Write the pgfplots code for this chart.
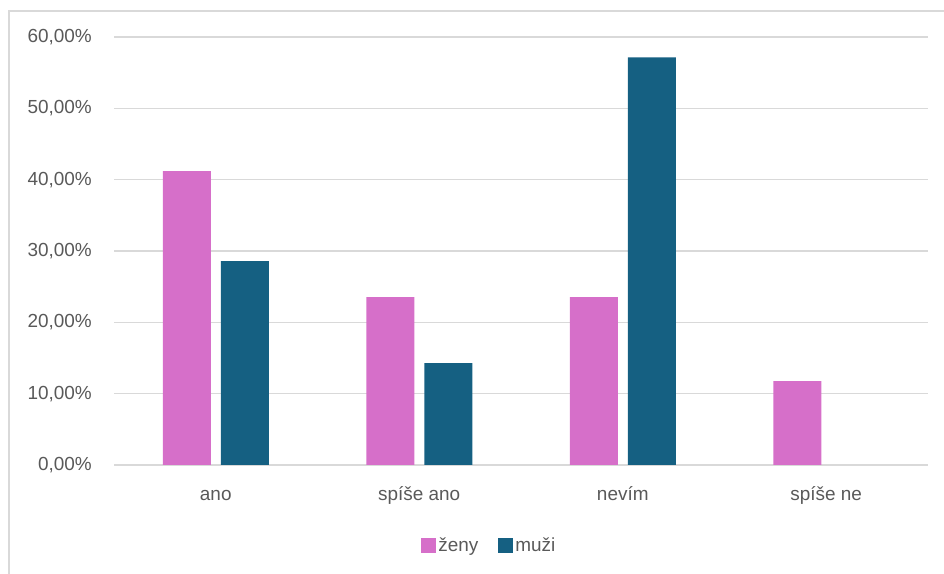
\documentclass[border=0pt]{standalone}
\usepackage{fontspec}
\setmainfont{Liberation Sans}
\usepackage{pgfplots}
\pgfplotsset{compat=1.18}
\definecolor{zeny}{HTML}{D66FC9}
\definecolor{muzi}{HTML}{156082}
\definecolor{gridc}{HTML}{D9D9D9}
\definecolor{txt}{HTML}{595959}
\begin{document}
\begin{tikzpicture}[x=1bp,y=1bp]
\path[use as bounding box] (0,0) rectangle (944,574);
\draw[gridc, line width=1.5bp] (9,0) -- (9,563) -- (944,563);
\begin{axis}[
  at={(114bp,109bp)}, anchor=south west,
  scale only axis, width=814bp, height=428bp,
  xmin=-0.5, xmax=3.5, ymin=0, ymax=60,
  axis line style={draw=none},
  major tick length=0pt,
  ymajorgrids, grid style={gridc, line width=1.5bp},
  ytick={0,10,20,30,40,50,60},
  yticklabels={{0,00\%},{10,00\%},{20,00\%},{30,00\%},{40,00\%},{50,00\%},{60,00\%}},
  xtick={0,1,2,3},
  xticklabels={ano,spíše ano,nevím,spíše ne},
  yticklabel style={anchor=east, inner sep=0pt, xshift=-22bp, font=\fontsize{19}{22}\selectfont, text=txt},
  xticklabel style={anchor=base, inner sep=0pt, yshift=-36bp, font=\fontsize{19}{22}\selectfont, text=txt},
  legend style={at={(0.461,-0.187)}, anchor=center, draw=none, fill=none,
    font=\fontsize{19}{22}\selectfont, text=txt, legend columns=2,
    /tikz/every even column/.append style={column sep=18bp},
    legend cell align=left},
  legend image code/.code={\fill[#1,draw=none] (-3bp,-7.5bp) rectangle (12bp,7.5bp);},
]
\addplot[ybar, fill=zeny, draw=none, bar width=48bp, bar shift=-29bp] coordinates {(0,41.18) (1,23.53) (2,23.53) (3,11.76)};
\addlegendentry{ženy}
\addplot[ybar, fill=muzi, draw=none, bar width=48bp, bar shift=29bp] coordinates {(0,28.57) (1,14.29) (2,57.14)};
\addlegendentry{muži}
\end{axis}
\end{tikzpicture}
\end{document}
